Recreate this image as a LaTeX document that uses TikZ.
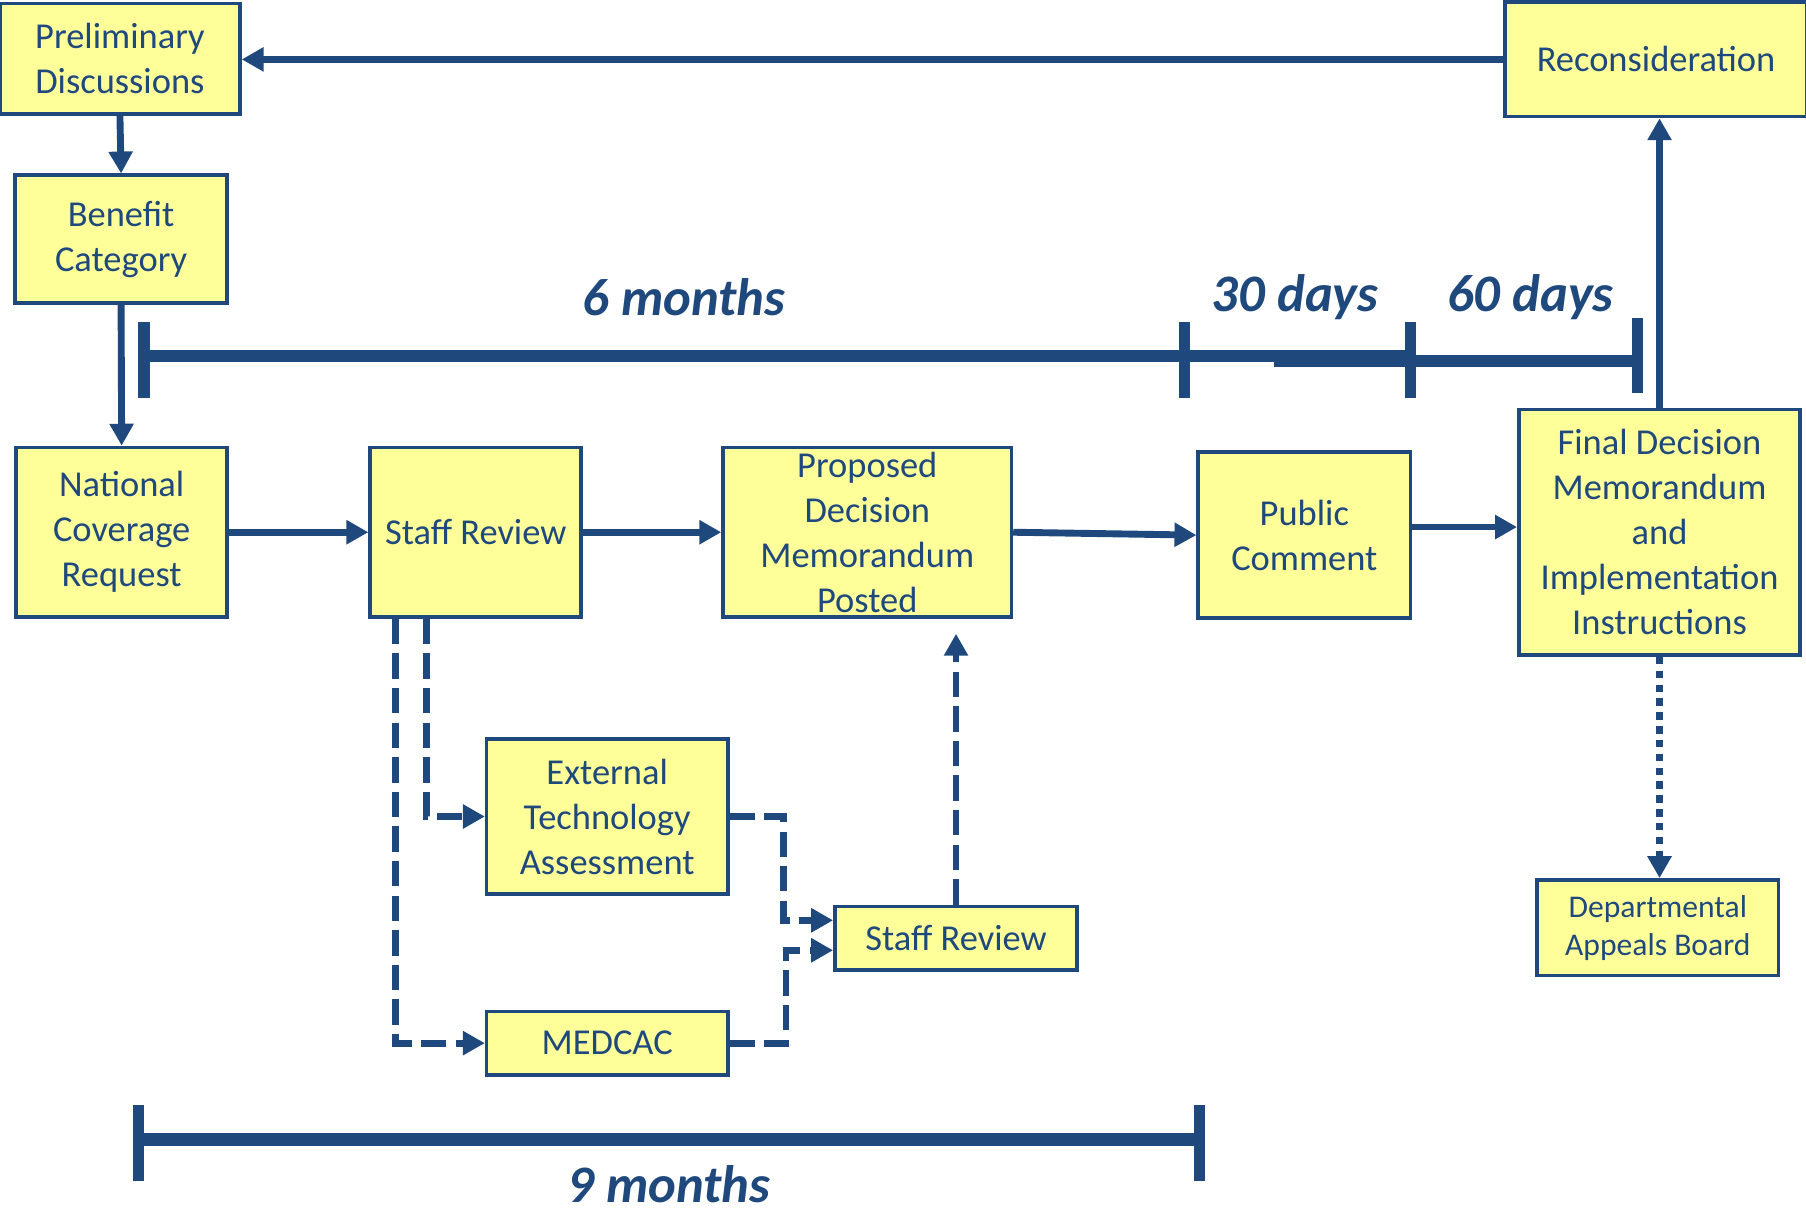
\documentclass[tikz,border=0pt]{standalone}
\usepackage{fontspec}
\setmainfont{Carlito}
\usetikzlibrary{arrows.meta,calc}
\definecolor{NCDBlue}{HTML}{1F497D}
\definecolor{NCDYellow}{HTML}{FFFF99}
\tikzset{
    block/.style = {draw=NCDBlue, fill=NCDYellow, line width=0.9pt,
        rectangle, text=NCDBlue, inner sep=0pt, align=center,
        font=\fontsize{9}{11.1}\selectfont},
    smallblock/.style = {block, font=\fontsize{7.8}{9.4}\selectfont},
    arrow/.style = {draw=NCDBlue, line width=1.7pt,
        -{Triangle[length=0.19cm,width=0.2cm]}},
    dasharrow/.style = {arrow, dash pattern=on 0.22cm off 0.08cm},
    dotarrow/.style = {arrow, dash pattern=on 0.065cm off 0.055cm},
    span/.style = {draw=NCDBlue, line width=3pt},
    spantick/.style = {draw=NCDBlue, line width=2.8pt},
    spanlabel/.style = {text=NCDBlue, inner sep=0pt,
        font=\fontsize{13}{15}\selectfont\bfseries\itshape}
}

\begin{document}
\begin{tikzpicture}[auto]
  \useasboundingbox (0,0) rectangle (15.66,-10.50);
  % boxes
  \node[block, minimum width=2.08cm, minimum height=0.96cm] (prelim) at (1.04,-0.51) {Preliminary\\Discussions};
  \node[block, minimum width=2.62cm, minimum height=0.99cm] (recon) at (14.36,-0.515) {Reconsideration};
  \node[block, minimum width=1.84cm, minimum height=1.11cm] (benefit) at (1.05,-2.075) {Benefit\\Category};
  \node[block, minimum width=1.83cm, minimum height=1.47cm] (ncr) at (1.055,-4.615) {National\\Coverage\\Request};
  \node[block, minimum width=1.83cm, minimum height=1.47cm] (review) at (4.125,-4.615) {Staff Review};
  \node[block, minimum width=2.50cm, minimum height=1.47cm] (pdm) at (7.52,-4.615) {Proposed\\Decision\\Memorandum\\Posted};
  \node[block, minimum width=1.84cm, minimum height=1.44cm] (comment) at (11.31,-4.64) {Public\\Comment};
  \node[block, minimum width=2.44cm, minimum height=2.13cm] (final) at (14.39,-4.615) {Final Decision\\Memorandum\\and\\Implementation\\Instructions};
  \node[block, minimum width=2.09cm, minimum height=1.34cm] (eta) at (5.265,-7.08) {External\\Technology\\Assessment};
  \node[block, minimum width=2.09cm, minimum height=0.55cm] (medcac) at (5.265,-9.045) {MEDCAC};
  \node[block, minimum width=2.10cm, minimum height=0.55cm] (review2) at (8.29,-8.135) {Staff Review};
  \node[smallblock, minimum width=2.09cm, minimum height=0.83cm] (dab) at (14.375,-8.045) {Departmental\\Appeals Board};

  % main flow
  \draw[arrow] (recon.west) -- (recon.west -| prelim.east);
  \draw[arrow] (prelim.south) -- (benefit.north);
  \draw[arrow] (benefit.south) -- (ncr.north);
  \draw[arrow] (ncr.east) -- (review.west);
  \draw[arrow] (review.east) -- (pdm.west);
  \draw[arrow] (pdm.east) -- (comment.west);
  \draw[arrow] ([yshift=0.07cm]comment.east) -- ([yshift=0.07cm]comment.east -| final.west);
  \draw[arrow] (final.north) -- (final.north |- recon.south);
  \draw[dotarrow] (final.south) -- (final.south |- dab.north);

  % side branch
  \draw[dasharrow] ([xshift=-0.695cm]review.south) |- (medcac.west);
  \draw[dasharrow] ([xshift=-0.425cm]review.south) |- (eta.west);
  \draw[dasharrow] (eta.east) -- ++(0.47,0) |- ([yshift=0.155cm]review2.west);
  \draw[dasharrow] (medcac.east) -- ++(0.49,0) |- ([yshift=-0.105cm]review2.west);
  \draw[dasharrow, shorten >=0.13cm] (review2.north) -- (review2.north |- pdm.south);

  % time spans
  \draw[span] (1.25,-3.09) -- (12.23,-3.09);
  \draw[span] (11.05,-3.13) -- (14.20,-3.13);
  \foreach \x in {1.25,10.27,12.23}{
    \draw[spantick] (\x,-2.79) -- (\x,-3.45);
  };
  \draw[spantick] (14.20,-2.76) -- (14.20,-3.41);
  \node[spanlabel] (sixmonths) at (5.93,-2.58) {6 months};
  \node[spanlabel] (thirtydays) at (11.23,-2.58) {30 days};
  \node[spanlabel] (sixtydays) at (13.27,-2.58) {60 days};

  \draw[span] (1.20,-9.88) -- (10.40,-9.88);
  \foreach \x in {1.20,10.40}{
    \draw[spantick] (\x,-9.58) -- (\x,-10.24);
  };
  \node[spanlabel] (ninemonths) at (5.80,-10.27) {9 months};
\end{tikzpicture}
\end{document}
